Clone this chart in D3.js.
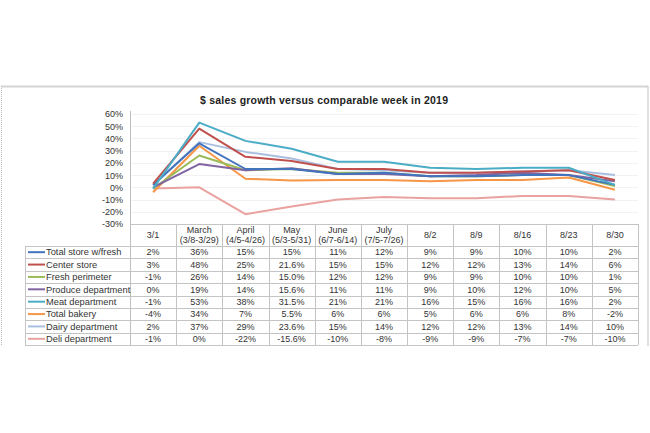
<!DOCTYPE html>
<html>
<head>
<meta charset="utf-8">
<script src="https://cdn.jsdelivr.net/npm/d3@7"></script>
<style>
  html, body { margin: 0; padding: 0; background: #fff; }
  svg { display: block; }
  text { font-family: "Liberation Sans", Arial, sans-serif; fill: #333; }
</style>
</head>
<body>
<svg id="chart" width="650" height="433"></svg>
<script>
const title = "$ sales growth versus comparable week in 2019";
const categories = ["3/1", "March", "April", "May", "June", "July", "8/2", "8/9", "8/16", "8/23", "8/30"];
const categorySubLabels = ["", "(3/8-3/29)", "(4/5-4/26)", "(5/3-5/31)", "(6/7-6/14)", "(7/5-7/26)", "", "", "", "", ""];
const seriesNames = ["Total store w/fresh", "Center store", "Fresh perimeter", "Produce department", "Meat department", "Total bakery", "Dairy department", "Deli department"];
const seriesColors = ["#4273bd", "#c0504d", "#9bbb59", "#8064a2", "#4bacc6", "#f79646", "#a9bfe0", "#e9a2a0"];
const totalStore  = [2, 36, 15, 15, 11, 12, 9, 9, 10, 10, 2];
const centerStore = [3, 48, 25, 21.6, 15, 15, 12, 12, 13, 14, 6];
const freshPerim  = [-1, 26, 14, 15.0, 12, 12, 9, 9, 10, 10, 1];
const produce     = [0, 19, 14, 15.6, 11, 11, 9, 10, 12, 10, 5];
const meat        = [-1, 53, 38, 31.5, 21, 21, 16, 15, 16, 16, 2];
const bakery      = [-4, 34, 7, 5.5, 6, 6, 5, 6, 6, 8, -2];
const dairy       = [2, 37, 29, 23.6, 15, 14, 12, 12, 13, 14, 10];
const deli        = [-1, 0, -22, -15.6, -10, -8, -9, -9, -7, -7, -10];
const seriesValues = [totalStore, centerStore, freshPerim, produce, meat, bakery, dairy, deli];
// number of decimals shown in the table for the May column, per series
const mayDecimals = [0, 1, 1, 1, 1, 1, 1, 1];
const yTicks = [60, 50, 40, 30, 20, 10, 0, -10, -20, -30];

const svg = d3.select("#chart");

// layout
const plotLeft = 130, plotRight = 638, plotTop = 114, plotBottom = 224;
const headerBottom = 246, tableBottom = 345, legendLeft = 25;
const rowH = (tableBottom - headerBottom) / seriesNames.length;

// outer frame
svg.append("line").attr("x1", 1).attr("x2", 648).attr("y1", 86.5).attr("y2", 86.5)
  .attr("stroke", "#d4d4d4").attr("stroke-width", 2);
svg.append("line").attr("x1", 648).attr("x2", 648).attr("y1", 86).attr("y2", 346)
  .attr("stroke", "#d4d4d4").attr("stroke-width", 1.5);
svg.append("line").attr("x1", 1.5).attr("x2", 1.5).attr("y1", 86).attr("y2", 345)
  .attr("stroke", "#bbb").attr("stroke-width", 1).attr("stroke-dasharray", "1,1");

// title
svg.append("text").attr("x", 324).attr("y", 104).attr("text-anchor", "middle")
  .attr("font-size", 10.5).attr("font-weight", "bold").attr("fill", "#222")
  .attr("textLength", 248).attr("lengthAdjust", "spacing")
  .style("fill", "#222").text(title);

const x = d3.scaleBand().domain(categories).range([plotLeft, plotRight]).padding(0);
const y = d3.scaleLinear().domain([-30, 60]).range([plotBottom, plotTop]);
const cx = c => x(c) + x.bandwidth() / 2;

// faint gridlines
svg.append("g").selectAll("line").data(yTicks.filter(t => t > -30)).join("line")
  .attr("x1", plotLeft).attr("x2", plotRight)
  .attr("y1", d => Math.round(y(d)) + 0.5).attr("y2", d => Math.round(y(d)) + 0.5)
  .attr("stroke", "#f2f2f2").attr("stroke-width", 1);

// y axis
const yAxis = d3.axisLeft(y).tickValues(yTicks).tickSize(0).tickPadding(7).tickFormat(d => d + "%");
const gy = svg.append("g").attr("transform", `translate(${plotLeft},0)`).call(yAxis);
gy.select(".domain").remove();
gy.selectAll("text").attr("font-size", 9).style("font-family", '"Liberation Sans", Arial, sans-serif').attr("fill", "#333");
svg.append("line").attr("x1", plotLeft + 0.5).attr("x2", plotLeft + 0.5).attr("y1", 111).attr("y2", tableBottom)
  .attr("stroke", "#bfbfbf").attr("stroke-width", 1);

// lines
const line = d3.line().x((d, i) => cx(categories[i])).y(d => y(d));
const order = [7, 5, 6, 2, 3, 0, 1, 4];
svg.append("g").selectAll("path").data(order).join("path")
  .attr("d", i => line(seriesValues[i]))
  .attr("fill", "none").attr("stroke", i => seriesColors[i])
  .attr("stroke-width", 2).attr("stroke-linejoin", "round");

// table grid
const grid = svg.append("g").attr("stroke", "#c4c4c4").attr("stroke-width", 1);
grid.append("line").attr("x1", plotLeft).attr("x2", plotRight).attr("y1", plotBottom + 0.5).attr("y2", plotBottom + 0.5);
for (let r = 0; r <= seriesNames.length; r++) {
  const yy = Math.round(headerBottom + r * rowH) + 0.5;
  grid.append("line").attr("x1", legendLeft).attr("x2", plotRight).attr("y1", yy).attr("y2", yy);
}
categories.forEach((c, i) => {
  const xx = Math.round(x(c) + x.bandwidth()) + 0.5;
  grid.append("line").attr("x1", xx).attr("x2", xx).attr("y1", plotBottom).attr("y2", tableBottom);
});
grid.append("line").attr("x1", legendLeft + 0.5).attr("x2", legendLeft + 0.5).attr("y1", headerBottom).attr("y2", tableBottom);

// header labels
const header = svg.append("g");
categories.forEach((c, i) => {
  if (categorySubLabels[i]) {
    header.append("text").attr("x", cx(c)).attr("y", 233).attr("text-anchor", "middle").attr("font-size", 9).text(c);
    header.append("text").attr("x", cx(c)).attr("y", 243).attr("text-anchor", "middle").attr("font-size", 9).text(categorySubLabels[i]);
  } else {
    header.append("text").attr("x", cx(c)).attr("y", 238).attr("text-anchor", "middle").attr("font-size", 9).text(c);
  }
});

// rows
seriesNames.forEach((name, s) => {
  const yc = headerBottom + s * rowH + rowH / 2;
  svg.append("line").attr("x1", 28).attr("x2", 45).attr("y1", yc).attr("y2", yc)
    .attr("stroke", seriesColors[s]).attr("stroke-width", 2);
  svg.append("text").attr("x", 46).attr("y", yc + 3.2).attr("font-size", 9.3).text(name);
  seriesValues[s].forEach((v, i) => {
    const label = (i === 3 ? v.toFixed(mayDecimals[s]) : String(v)) + "%";
    svg.append("text").attr("x", cx(categories[i])).attr("y", yc + 3.2)
      .attr("text-anchor", "middle").attr("font-size", 9).text(label);
  });
});
</script>
</body>
</html>
